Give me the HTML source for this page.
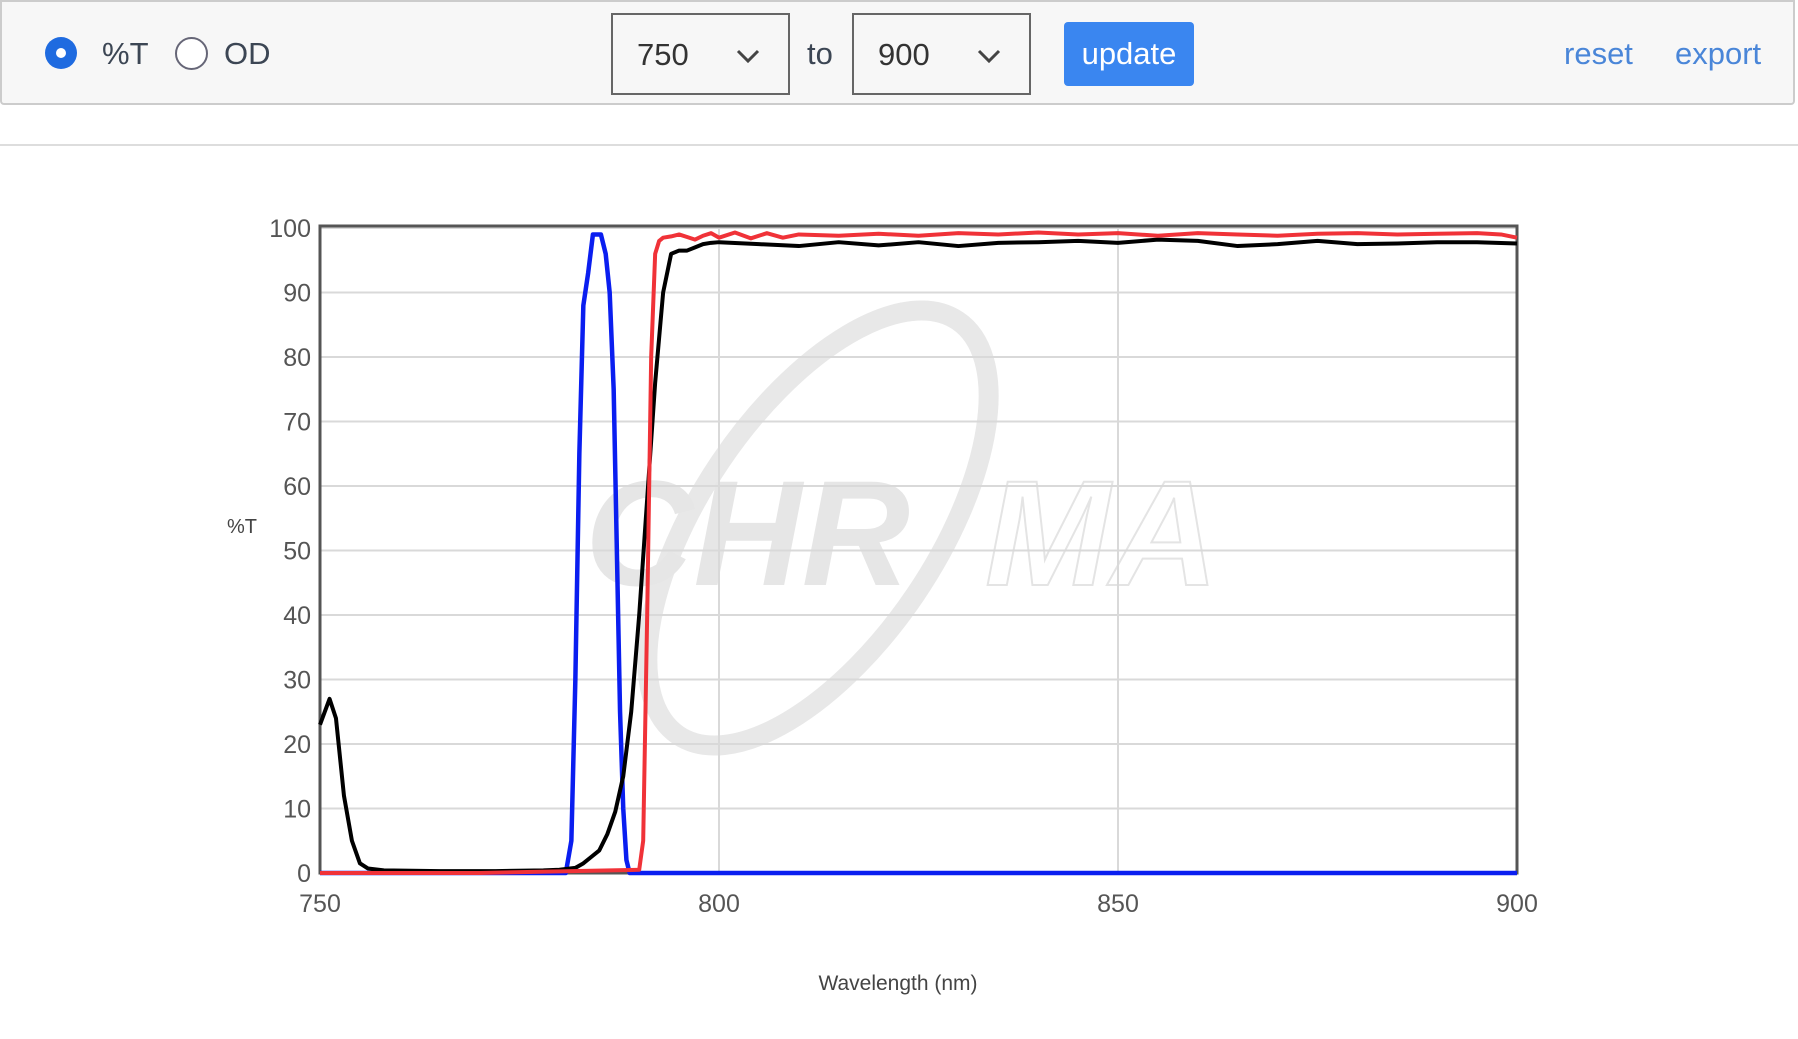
<!DOCTYPE html>
<html><head><meta charset="utf-8"><style>
body{margin:0;width:1798px;height:1039px;background:#fff;font-family:"Liberation Sans",sans-serif;overflow:hidden;position:relative}
.bar{position:absolute;left:0;top:0;width:1795px;height:105px;background:#f7f7f7;border:2px solid #ccc;border-radius:0 0 4px 4px;box-sizing:border-box}
.abs{position:absolute}
.sel{position:absolute;top:13px;height:82px;width:179px;border:2px solid #666;box-sizing:border-box;background:#f7f7f7;font-size:31px;color:#333}
.sel span{position:absolute;left:24px;top:22px}
.sel svg{position:absolute;right:28px;top:34px}
</style></head><body>
<div class="bar"></div>
<div class="abs" style="left:45px;top:37px;width:32px;height:32px;border-radius:50%;background:#1f6be0"><div style="position:absolute;left:11px;top:11px;width:10px;height:10px;border-radius:50%;background:#fff"></div></div>
<div class="abs" style="left:102px;top:36px;font-size:31px;color:#3c4654">%T</div>
<div class="abs" style="left:175px;top:37px;width:29px;height:29px;border-radius:50%;border:2px solid #667;background:#fff"></div>
<div class="abs" style="left:224px;top:36px;font-size:31px;color:#3c4654">OD</div>
<div class="sel" style="left:611px"><span>750</span><svg width="24" height="14"><path d="M2 2 L12 12 L22 2" fill="none" stroke="#444" stroke-width="3"/></svg></div>
<div class="abs" style="left:807px;top:36px;font-size:31px;color:#3c4654">to</div>
<div class="sel" style="left:852px"><span>900</span><svg width="24" height="14"><path d="M2 2 L12 12 L22 2" fill="none" stroke="#444" stroke-width="3"/></svg></div>
<div class="abs" style="left:1064px;top:22px;width:130px;height:64px;background:#3a86f0;border-radius:4px;color:#fff;font-size:31px;text-align:center;line-height:64px">update</div>
<div class="abs" style="left:1564px;top:36px;font-size:31px;color:#4a86d8">reset</div>
<div class="abs" style="left:1675px;top:36px;font-size:31px;color:#4a86d8">export</div>
<div class="abs" style="left:0;top:144px;width:1798px;height:2px;background:#ddd"></div>
<svg id="chart" class="abs" style="left:0;top:0" width="1798" height="1039"></svg>
<script>
const xTicks=[750,800,850,900];
const yTicks=[0,10,20,30,40,50,60,70,80,90,100];
const blackX=[750,751.2,752,753,754,755,756,758,765,772,778,780,782,783,784,785,786,787,788,789,790,791,792,793,794,795,796,797,798,799,800,805,810,815,820,825,830,835,840,845,850,855,860,865,870,875,880,885,890,895,900];
const blackY=[23,27,24,12,5,1.5,0.7,0.4,0.3,0.3,0.4,0.5,0.8,1.5,2.5,3.5,6,9.5,15,25,40,58,76,90,96,96.5,96.5,97,97.5,97.7,97.8,97.5,97.2,97.8,97.3,97.8,97.2,97.7,97.8,98,97.7,98.2,98,97.2,97.5,98,97.5,97.6,97.8,97.8,97.6];
const redX=[750,770,790,790.5,791,791.5,792,792.5,793,794,795,796,797,798,799,800,802,804,806,808,810,815,820,825,830,835,840,845,850,855,860,865,870,875,880,885,890,895,898,900];
const redY=[0,0,0.5,5,40,80,96,98,98.5,98.7,99,98.6,98.2,98.8,99.2,98.5,99.3,98.4,99.2,98.5,99,98.8,99.1,98.8,99.2,99,99.3,99,99.2,98.8,99.2,99,98.8,99.1,99.2,99,99.1,99.2,99,98.5];
const blueX=[750,780.8,781.5,782,782.5,783,783.6,784.2,785.2,785.8,786.3,786.8,787.2,787.6,788,788.4,788.8,900];
const blueY=[0,0,5,30,65,88,93,99,99,96,90,75,50,25,10,2,0,0];
const X0=320,X1=1517,Y0=873,Y1=228;
const sx=v=>X0+(v-750)/150*(X1-X0);
const sy=v=>Y0-v/100*(Y0-Y1);
const svg=document.getElementById('chart');const NS='http://www.w3.org/2000/svg';
function mk(t,a,p){const e=document.createElementNS(NS,t);for(const k in a)e.setAttribute(k,a[k]);(p||svg).appendChild(e);return e;}
const wm=mk('g',{});


mk('ellipse',{cx:818,cy:528,rx:250,ry:118,transform:'rotate(-56 818 528)',fill:'none',stroke:'#e8e8e8','stroke-width':20},wm);
const t1=mk('text',{x:585,y:585,'font-size':150,'font-weight':'bold','font-style':'italic',fill:'#e6e6e6','font-family':'Liberation Sans'},wm);t1.textContent='CHR';
const t2=mk('text',{x:985,y:585,'font-size':150,'font-weight':'bold','font-style':'italic',fill:'none',stroke:'#e4e4e4','stroke-width':2,'font-family':'Liberation Sans'},wm);t2.textContent='MA';
yTicks.forEach(v=>{
 const g=mk('line',{x1:X0,x2:X1,y1:sy(v),y2:sy(v),stroke:'#d9d9d9','stroke-width':2});
 
 
 const t=mk('text',{x:311,y:sy(v)+9,'text-anchor':'end','font-size':25,fill:'#555'});t.textContent=v;
 
 
});
xTicks.forEach(v=>{
 const g=mk('line',{x1:sx(v),x2:sx(v),y1:Y1,y2:Y0,stroke:'#d9d9d9','stroke-width':2});
 
 
 const t=mk('text',{x:sx(v),y:912,'text-anchor':'middle','font-size':25,fill:'#555'});t.textContent=v;
 
 
});
const fr=mk('rect',{x:X0,y:226,width:X1-X0,height:Y0-226,fill:'none',stroke:'#555','stroke-width':3});


function line(xs,ys,c,n,w){const p=mk('polyline',{points:xs.map((x,i)=>sx(x)+','+sy(ys[i])).join(' '),fill:'none',stroke:c,'stroke-width':w,'stroke-linejoin':'round'});
 
 }
line(blueX,blueY,'#0a1ef0','series-blue',4.5);
line(blackX,blackY,'#000','series-black',4);
line(redX,redY,'#f03238','series-red',4);
const yl=mk('text',{x:242,y:533,'text-anchor':'middle','font-size':20,fill:'#444'});yl.textContent='%T';


const xl=mk('text',{x:898,y:990,'text-anchor':'middle','font-size':21,fill:'#444'});xl.textContent='Wavelength (nm)';


</script>
</body></html>
